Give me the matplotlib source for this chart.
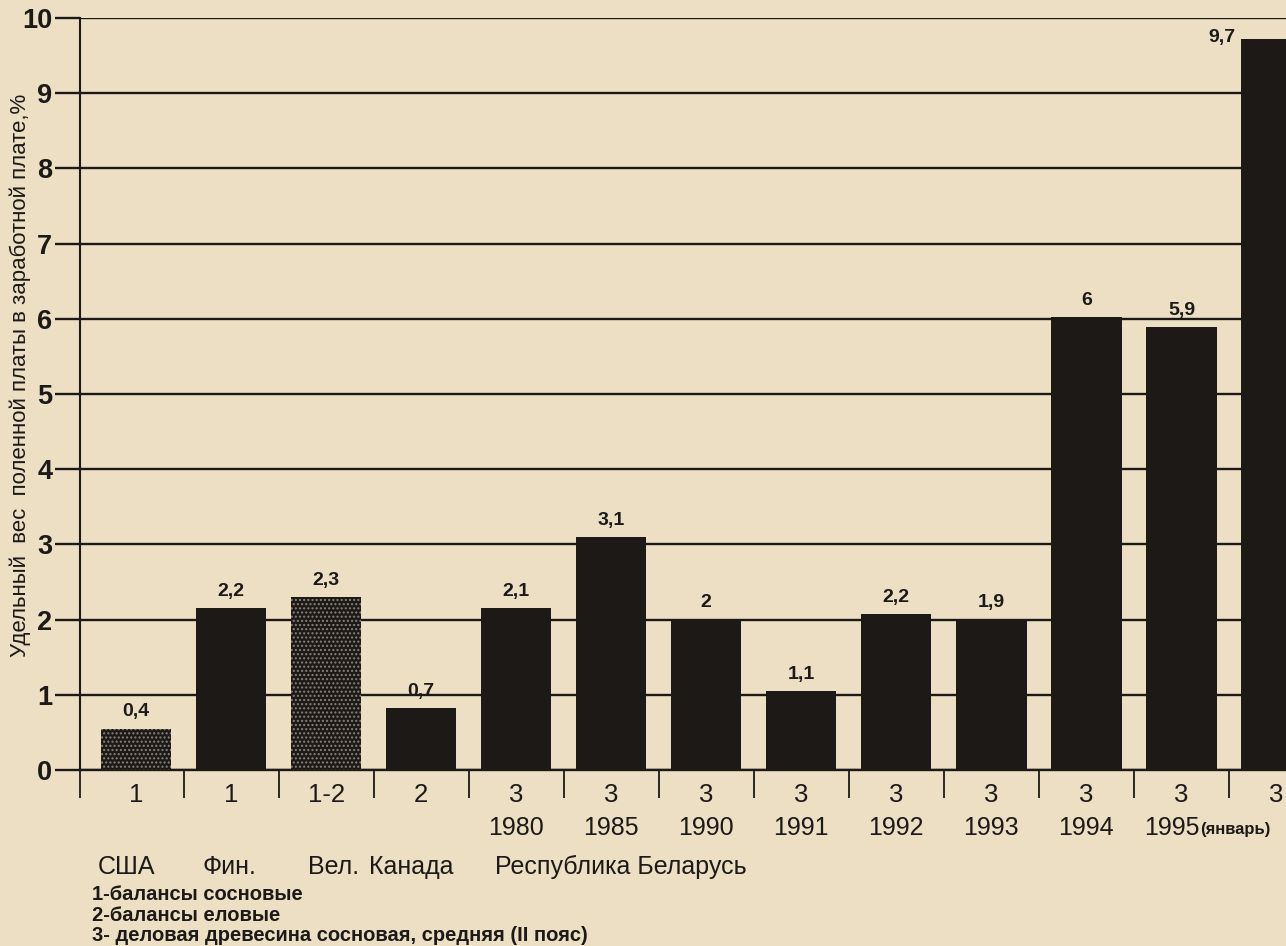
import matplotlib.pyplot as plt

# Share of firewood cost in wages, %
codes = ['1', '1', '1-2', '2', '3', '3', '3', '3', '3', '3', '3', '3', '3']
years = ['', '', '', '', '1980', '1985', '1990', '1991', '1992', '1993', '1994', '1995', '']
heights = [0.55, 2.15, 2.3, 0.82, 2.15, 3.1, 2.0, 1.05, 2.07, 2.0, 6.02, 5.89, 9.72]
value_labels = ['0,4', '2,2', '2,3', '0,7', '2,1', '3,1', '2', '1,1', '2,2', '1,9', '6', '5,9', '9,7']
dotted = [True, False, True, False, False, False, False, False, False, False, False, False, False]

countries = ['США', 'Фин.', 'Вел.', 'Канада', 'Республика Беларусь']
notes = ['1-балансы сосновые',
         '2-балансы еловые',
         '3- деловая древесина сосновая, средняя (II пояс)']

paper = '#ecdfc4'
ink = '#1c1917'

plt.rcParams['font.family'] = ['Liberation Sans', 'DejaVu Sans']

fig = plt.figure(figsize=(12.86, 9.46), dpi=100)
fig.patch.set_facecolor(paper)
ax = fig.add_axes([80 / 1286, 176 / 946, 1206 / 1286, 752 / 946])
ax.set_facecolor(paper)

x = list(range(len(heights)))
for i, h in enumerate(heights):
    if dotted[i]:
        ax.bar(i, h, width=0.74, color=ink, edgecolor='#8a837a', linewidth=0,
               hatch='....', zorder=3)
    else:
        ax.bar(i, h, width=0.74, color=ink, linewidth=0, zorder=3)

# value labels above the bars (last one sits to the left of the tall bar)
for i, (h, lab) in enumerate(zip(heights, value_labels)):
    if i == len(heights) - 1:
        ax.annotate(lab, (i - 0.37, h), xytext=(-4, 1), textcoords='offset points',
                    ha='right', va='center', fontsize=14, fontweight='bold', color=ink)
    else:
        ax.annotate(lab, (i, h), xytext=(0, 6), textcoords='offset points',
                    ha='center', va='bottom', fontsize=14, fontweight='bold', color=ink)

ax.set_xlim(-0.589, 12.1)
ax.set_ylim(0, 10)

# horizontal rules
ax.set_yticks(range(0, 11))
ax.yaxis.grid(True, color=ink, linewidth=1.7, zorder=1)
ax.set_axisbelow(True)
ax.tick_params(axis='y', length=18, width=1.7, pad=2, labelsize=19.5, colors=ink)
for t in ax.get_yticklabels():
    t.set_fontweight('bold')

# category codes under the bars, separators between them
ax.set_xticks(x)
ax.set_xticklabels(codes, fontsize=18.5, color=ink)
ax.tick_params(axis='x', which='major', length=0, pad=9)
ax.set_xticks([-0.589] + [i + 0.5 for i in range(len(heights) - 1)], minor=True)
ax.tick_params(axis='x', which='minor', length=20, width=1.3, color=ink, direction='out')

for side in ['top', 'right']:
    ax.spines[side].set_visible(False)
ax.spines['left'].set_linewidth(1.5)
ax.spines['bottom'].set_linewidth(1.7)
ax.spines['left'].set_color(ink)
ax.spines['bottom'].set_color(ink)

# years row
tr = ax.get_xaxis_transform()
last_year = None
for i, yr in enumerate(years):
    if yr:
        last_year = ax.text(i - (0.1 if i == 11 else 0), -0.077, yr, transform=tr,
                            ha='center', va='center', fontsize=18, color=ink,
                            clip_on=False)
ax.annotate('(январь)', xy=(1, 0.42), xycoords=last_year, ha='left', va='center',
            fontsize=12, fontweight='bold', color=ink, annotation_clip=False)

ax.set_ylabel('Удельный  вес  поленной платы в заработной плате,%', fontsize=16,
              color=ink)
ax.yaxis.set_label_coords(-0.041, 0.525)

# country row
country_x = [98, 203, 308, 369, 495]
for cx, name in zip(country_x, countries):
    fig.text(cx / 1286, 1 - 867 / 946, name, ha='left', va='center',
             fontsize=18, color=ink)

for k, note in enumerate(notes):
    fig.text(92 / 1286, 1 - (895 + 20 * k) / 946, note, ha='left', va='center',
             fontsize=14.5, fontweight='bold', color=ink)

plt.savefig('out.png', dpi=100, facecolor=paper)
